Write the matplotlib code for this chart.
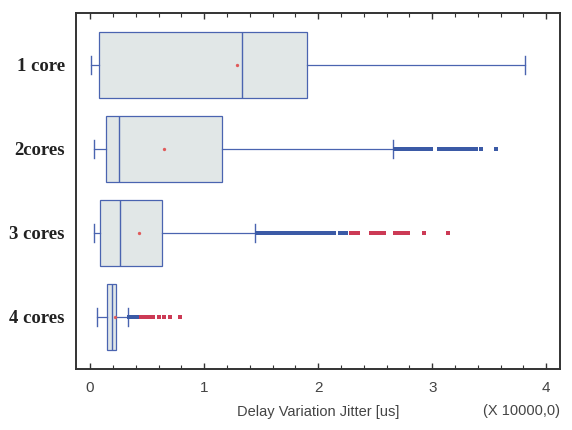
import matplotlib
matplotlib.use("Agg")
import matplotlib.pyplot as plt
from matplotlib.ticker import MultipleLocator

# box statistics (units of 10000 us)
labels = ["1 core", "2cores", "3 cores", "4 cores"]
q1 = [0.08, 0.14, 0.09, 0.15]
med = [1.33, 0.25, 0.26, 0.19]
q3 = [1.90, 1.16, 0.63, 0.23]
whis_lo = [0.01, 0.03, 0.03, 0.06]
whis_hi = [3.81, 2.66, 1.45, 0.33]
means = [1.29, 0.65, 0.43, 0.22]

# outliers (blue = outside, red = far outside)
out_blue = [
    [],
    [2.67, 2.69, 2.71, 2.73, 2.75, 2.77, 2.79, 2.81, 2.83, 2.85, 2.87, 2.89,
     2.92, 2.94, 2.96, 2.99, 3.06, 3.08, 3.10, 3.12, 3.14, 3.16, 3.18, 3.20,
     3.22, 3.24, 3.26, 3.28, 3.30, 3.32, 3.34, 3.36, 3.38, 3.43, 3.56],
    [1.46, 1.48, 1.50, 1.52, 1.54, 1.56, 1.58, 1.60, 1.62, 1.64, 1.66, 1.68,
     1.70, 1.72, 1.74, 1.76, 1.78, 1.80, 1.82, 1.84, 1.86, 1.88, 1.90, 1.92,
     1.94, 1.96, 1.98, 2.00, 2.02, 2.04, 2.06, 2.08, 2.10, 2.12, 2.14,
     2.19, 2.21, 2.24],
    [0.34, 0.36, 0.38, 0.40, 0.42],
]
out_red = [
    [],
    [],
    [2.29, 2.32, 2.35, 2.46, 2.49, 2.52, 2.55, 2.58, 2.67, 2.70, 2.73, 2.76,
     2.79, 2.93, 3.14],
    [0.45, 0.47, 0.49, 0.51, 0.53, 0.55, 0.60, 0.65, 0.70, 0.79],
]

edge = "#4a64b0"
fill = "#e1e7e7"
blue = "#3b5aa6"
red = "#cc3a55"

stats = []
for i in range(len(labels)):
    stats.append(dict(label=labels[i], q1=q1[i], med=med[i], q3=q3[i],
                      whislo=whis_lo[i], whishi=whis_hi[i], mean=means[i],
                      fliers=[]))

fig = plt.figure(figsize=(5.72, 4.30), dpi=100)
ax = fig.add_axes([0.133, 0.142, 0.846, 0.828])

pos = [1, 2, 3, 4]
ax.bxp(stats, positions=pos, vert=False, widths=0.79, patch_artist=True,
       showmeans=True, showfliers=False, capwidths=0.22,
       boxprops=dict(facecolor=fill, edgecolor=edge, linewidth=0.9),
       medianprops=dict(color=edge, linewidth=1.0),
       whiskerprops=dict(color=edge, linewidth=0.9),
       capprops=dict(color=edge, linewidth=1.0),
       meanprops=dict(marker="o", markersize=2.4, markerfacecolor="#e05a5a",
                      markeredgecolor="none"))

for i in range(len(labels)):
    if out_blue[i]:
        ax.plot(out_blue[i], [pos[i]] * len(out_blue[i]), "s", color=blue,
                markersize=2.3, markeredgewidth=0)
    if out_red[i]:
        ax.plot(out_red[i], [pos[i]] * len(out_red[i]), "s", color=red,
                markersize=2.3, markeredgewidth=0)

ax.set_xlim(-0.123, 4.12)
ax.set_ylim(4.62, 0.38)

ax.xaxis.set_major_locator(MultipleLocator(1))
ax.xaxis.set_minor_locator(MultipleLocator(0.2))
ax.tick_params(axis="x", which="both", direction="in", top=True, bottom=True,
               color="#333333", labelsize=11, labelcolor="#444444", pad=9)
ax.tick_params(axis="x", which="major", length=4.5, width=1.0)
ax.tick_params(axis="x", which="minor", length=3, width=0.8)
ax.tick_params(axis="y", length=0, pad=8)
for lab in ax.get_xticklabels():
    lab.set_family("Liberation Sans")
ax.set_yticks(pos)
ax.set_yticklabels(labels, family="Liberation Serif", fontweight="bold",
                   fontsize=13.5, color="#222222")

for s in ax.spines.values():
    s.set_color("#333333")
    s.set_linewidth(1.4)

ax.set_xlabel("Delay Variation Jitter [us]", family="Liberation Sans",
              fontsize=10.5, color="#444444", labelpad=7)
fig.text(0.979, 0.045, "(X 10000,0)", family="Liberation Sans", fontsize=10.5,
         color="#444444", ha="right", va="center")

fig.savefig("out.png", dpi=100)
